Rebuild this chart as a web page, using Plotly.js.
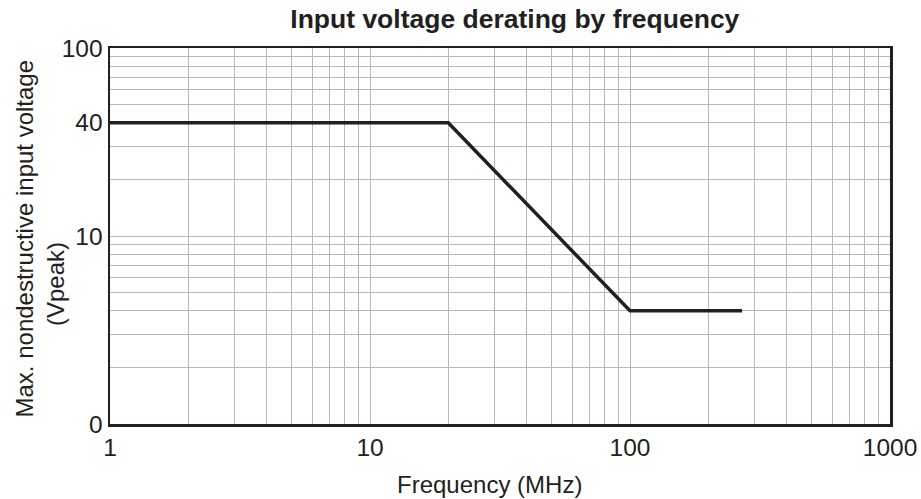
<!DOCTYPE html>
<html>
<head>
<meta charset="utf-8">
<script src="https://cdn.plot.ly/plotly-3.0.1.min.js"></script>
<style>html,body{margin:0;padding:0;background:#fff;}#chart{width:921px;height:499px;}</style>
</head>
<body>
<div id="chart"></div>
<script>
// Data
const frequencyMHz = [1, 20, 100, 270];
const maxVoltage = [40, 40, 4, 4];

const xTickVals = [1, 10, 100, 1000];
const xTickText = ["1", "10", "100", "1000"];
const xMinorVals = [2,3,4,5,6,7,8,9,20,30,40,50,60,70,80,90,200,300,400,500,600,700,800,900];

const yTickVals = [1, 10, 40, 100];
const yTickText = ["0", "10", "40", "100"];
const yMinorVals = [2,3,4,5,6,7,8,9,20,30,50,60,70,80,90];

const xTitle = 'Frequency (MHz)';
const yTitleLine1 = 'Max. nondestructive input voltage';
const yTitleLine2 = '(Vpeak)';

const ink = '#231f20';
const grid = '#b8b8b8';
const fontFam = 'Liberation Sans, Arial, sans-serif';

const trace = {
  x: frequencyMHz,
  y: maxVoltage,
  type: 'scatter',
  mode: 'lines',
  line: {color: ink, width: 3.5},
  hoverinfo: 'skip'
};

const layout = {
  width: 921,
  height: 499,
  margin: {l: 110, r: 31, t: 48, b: 75},
  paper_bgcolor: '#fff',
  plot_bgcolor: '#fff',
  showlegend: false,
  font: {family: fontFam, size: 24, color: ink},
  title: {
    text: '<b>Input voltage derating by frequency</b>',
    font: {family: fontFam, size: 26.5, color: ink},
    x: 0.519, xanchor: 'center', xref: 'paper',
    y: 0.962, yanchor: 'middle'
  },
  xaxis: {
    type: 'log',
    range: [0, 3],
    tickmode: 'array',
    tickvals: xTickVals,
    ticktext: xTickText,
    ticks: '', ticklen: 0,
    showgrid: true, gridcolor: grid, gridwidth: 1,
    minor: {tickmode: 'array', tickvals: xMinorVals, showgrid: true, gridcolor: grid, gridwidth: 1, ticks: ''},
    showline: true, linecolor: ink, linewidth: 2.5, mirror: true,
    zeroline: false,
    tickfont: {family: fontFam, size: 24.5, color: ink}
  },
  yaxis: {
    type: 'log',
    range: [0, 2],
    tickmode: 'array',
    tickvals: yTickVals,
    ticktext: yTickText,
    ticks: '', ticklen: 0,
    showgrid: true, gridcolor: grid, gridwidth: 1,
    minor: {tickmode: 'array', tickvals: yMinorVals, showgrid: true, gridcolor: grid, gridwidth: 1, ticks: ''},
    showline: true, linecolor: ink, linewidth: 2.5, mirror: true,
    zeroline: false,
    tickfont: {family: fontFam, size: 24.5, color: ink}
  },
  annotations: [
    {text: xTitle, xref: 'paper', yref: 'paper', x: 0.5, y: -0.1596,
     xanchor: 'center', yanchor: 'middle', xshift: -10.5, showarrow: false,
     font: {family: fontFam, size: 24, color: ink}},
    {text: yTitleLine1, textangle: -90, xref: 'paper', yref: 'paper', x: 0, y: 0.4934,
     xanchor: 'center', yanchor: 'middle', xshift: -86, showarrow: false,
     font: {family: fontFam, size: 24, color: ink}},
    {text: yTitleLine2, textangle: -90, xref: 'paper', yref: 'paper', x: 0, y: 0.3723,
     xanchor: 'center', yanchor: 'middle', xshift: -55, showarrow: false,
     font: {family: fontFam, size: 24, color: ink}}
  ]
};

Plotly.newPlot('chart', [trace], layout, {displayModeBar: false, staticPlot: true});
</script>
</body>
</html>
